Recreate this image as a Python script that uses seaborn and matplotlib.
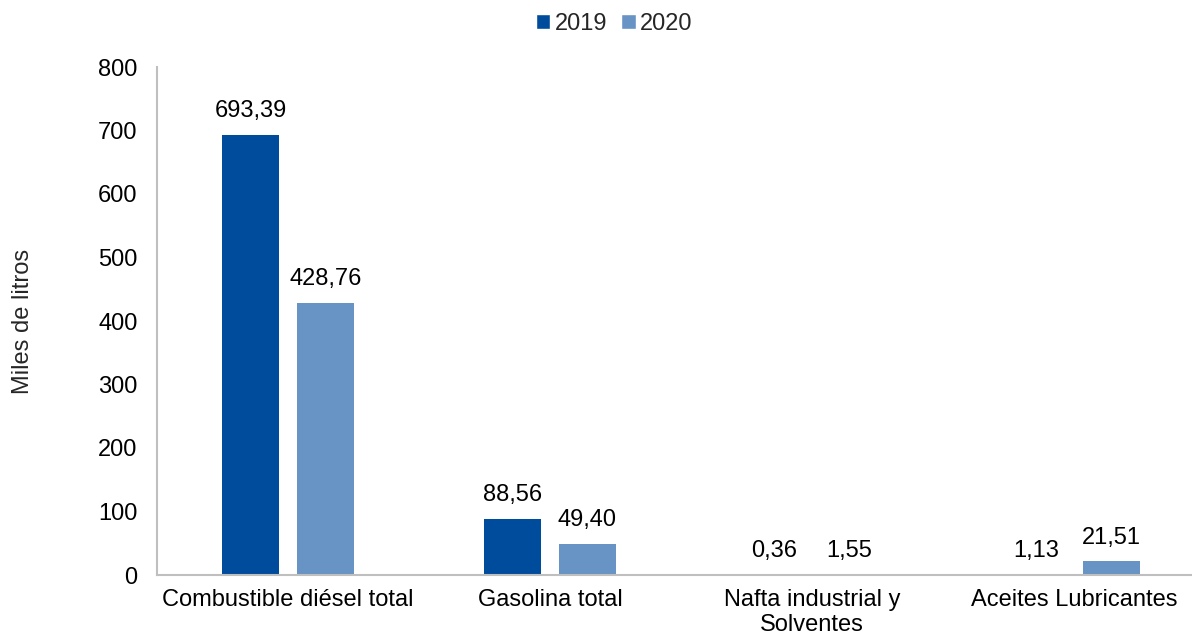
import matplotlib
matplotlib.use("Agg")
import matplotlib.pyplot as plt
import seaborn as sns
import pandas as pd
from matplotlib.patches import Patch

categories = ["Combustible diésel total", "Gasolina total", "Nafta industrial y\nSolventes", "Aceites Lubricantes"]
years = ["2019", "2020"]
values_2019 = [693.39, 88.56, 0.36, 1.13]
values_2020 = [428.76, 49.40, 1.55, 21.51]
yticks = [0, 100, 200, 300, 400, 500, 600, 700, 800]

sns.set_theme(style="white")
plt.rcParams['font.family'] = ['Liberation Sans', 'DejaVu Sans']

df = pd.DataFrame({
    "cat": categories * 2,
    "year": [years[0]] * 4 + [years[1]] * 4,
    "val": values_2019 + values_2020,
})
colors = {"2019": "#004C9C", "2020": "#6794C4"}

FS = 17
fig = plt.figure(figsize=(11.92, 6.39), dpi=100)
ax = fig.add_axes([157/1192, 1 - 575/639, (1205 - 157)/1192, (575 - 67)/639])
sns.barplot(data=df, x="cat", y="val", hue="year", palette=colors, width=0.572, gap=0.227,
            ax=ax, legend=False, saturation=1, errorbar=None, linewidth=0)

for cont in ax.containers:
    ax.bar_label(cont, labels=[f"{v:.2f}".replace(".", ",") for v in cont.datavalues],
                 padding=9, fontsize=FS, color="#000000")

ax.set_ylim(0, 800)
ax.set_yticks(yticks)
ax.set_xlim(-0.5, 3.5)
ax.tick_params(axis="y", labelsize=FS, colors="#000000", length=0, pad=14)
ax.tick_params(axis="x", labelsize=FS, colors="#000000", length=0, pad=10)
ax.set_xlabel("")
ax.set_ylabel("Miles de litros", fontsize=FS, labelpad=46)
for s in ["top", "right"]:
    ax.spines[s].set_visible(False)
for s in ["left", "bottom"]:
    ax.spines[s].set_color("#BFBFBF")
    ax.spines[s].set_linewidth(1.5)

handles = [Patch(facecolor=colors[y], label=y) for y in years]
fig.legend(handles=handles, loc="center", bbox_to_anchor=(0.5154, 1 - 24/639), ncol=2, frameon=False,
           fontsize=FS, handlelength=0.6, handleheight=0.6, handletextpad=0.2, columnspacing=0.6)

fig.savefig("out.png", dpi=100)
